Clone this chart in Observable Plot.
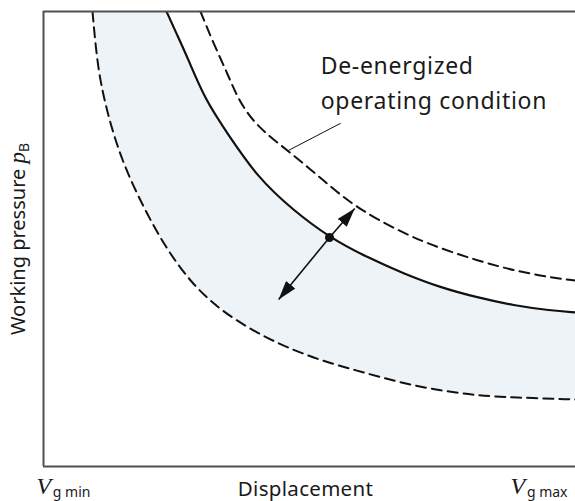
<!DOCTYPE html>
<html>
<head>
<meta charset="utf-8">
<script src="https://cdn.jsdelivr.net/npm/d3@7"></script>
<script src="https://cdn.jsdelivr.net/npm/@observablehq/plot@0.6"></script>
<style>
  html, body { margin: 0; padding: 0; background: #fff; }
  #chart svg { display: block; }
</style>
</head>
<body>
<div id="chart"></div>
<script>
// ---- Data (displacement 0..100 = Vg min..Vg max, pressure 0..100 relative) ----
const lowerX   = [9.21, 10.15, 11.84, 14.66, 18.80, 22.93, 27.82, 33.27, 40.23, 46.99, 53.95, 60.90, 67.67, 74.62, 81.58, 88.35, 100];
const lowerY   = [100, 87.69, 78.24, 67.25, 56.92, 48.13, 40.22, 34.29, 29.23, 25.49, 22.64, 20.44, 18.24, 16.70, 15.60, 15.16, 14.73];
const nominalX = [23.12, 25.00, 27.07, 30.45, 34.59, 40.23, 46.99, 53.76, 60.90, 67.67, 74.62, 81.58, 88.35, 95.30, 100];
const nominalY = [100, 95.16, 89.89, 80.44, 73.19, 63.52, 56.26, 50.33, 45.93, 42.42, 39.34, 37.14, 35.38, 34.29, 33.85];
const upperX   = [29.51, 31.95, 34.59, 36.65, 40.23, 46.43, 52.63, 58.65, 67.67, 74.62, 81.58, 88.35, 95.30, 100];
const upperY   = [100, 92.97, 86.37, 80.44, 74.51, 69.01, 62.86, 56.92, 51.21, 47.91, 45.27, 43.08, 41.54, 40.88];

const operatingPointX = [53.76];
const operatingPointY = [50.33];
const arrowTipX = [58.5, 44.2];
const arrowTipY = [56.7, 36.7];

const leaderX = [46.1, 55.8];
const leaderY = [69.5, 75.4];

const annotationText = "De-energized\noperating condition";
const yLabelKey = "Working pressure pB";
const xLabel = "Displacement";
const xTickMain = ["V", "V"];
const xTickSub = ["g min", "g max"];
const xTickPos = [0, 100];
const xDomain = [0, 100];
const yDomain = [0, 100];

// ---- Build tables ----
const toPts = (xs, ys) => xs.map((x, i) => ({x, y: ys[i]}));
const lower = toPts(lowerX, lowerY);
const nominal = toPts(nominalX, nominalY);
const upper = toPts(upperX, upperY);
const arrows = arrowTipX.map((x, i) => ({x1: operatingPointX[0], y1: operatingPointY[0], x2: x, y2: arrowTipY[i]}));
const leader = toPts(leaderX, leaderY);
const xTicks = xTickMain.map((m, i) => ({key: m + "_" + xTickSub[i], pos: xTickPos[i]}));

const SANS = "'Noto Sans', 'Open Sans', sans-serif";
const frameColor = "#505050";
const ink = "#111";
const bandColor = "#edf3f7";
const CURVE = "basis";

const chart = Plot.plot({
  width: 575,
  height: 501,
  marginLeft: 43,
  marginRight: 0,
  marginTop: 11,
  marginBottom: 35,
  x: {domain: xDomain, axis: null},
  y: {domain: yDomain, axis: null},
  style: {fontFamily: SANS, background: "#fff", color: "#1a1a1a"},
  marks: [
    // tolerance band: region above the lower curve, minus region above the nominal curve
    Plot.areaY(lower, {x: "x", y1: "y", y2: yDomain[1], fill: bandColor, curve: CURVE, clip: true}),
    Plot.areaY(nominal, {x: "x", y1: "y", y2: yDomain[1], fill: "#fff", curve: CURVE, clip: true}),
    Plot.line(lower, {x: "x", y: "y", stroke: ink, strokeWidth: 2, strokeDasharray: "10,6", curve: CURVE, clip: true}),
    Plot.line(upper, {x: "x", y: "y", stroke: ink, strokeWidth: 2, strokeDasharray: "10,6", curve: CURVE, clip: true}),
    Plot.line(nominal, {x: "x", y: "y", stroke: ink, strokeWidth: 2.2, curve: CURVE, clip: true}),
    Plot.line(leader, {x: "x", y: "y", stroke: ink, strokeWidth: 1}),
    Plot.link(arrows, {x1: "x1", y1: "y1", x2: "x2", y2: "y2", stroke: ink, strokeWidth: 1.6}),
    Plot.dot(operatingPointX.map((x, i) => ({x, y: operatingPointY[i]})), {x: "x", y: "y", r: 4.5, fill: ink, stroke: "none"}),
    Plot.ruleX([xDomain[0]], {stroke: frameColor, strokeWidth: 2}),
    Plot.ruleY(yDomain, {stroke: frameColor, strokeWidth: 2}),
    Plot.text([annotationText], {x: 52.1, y: 91.7, text: d => d, textAnchor: "start", lineAnchor: "top", lineHeight: 1.52, fontSize: 23, fill: "#1a1a1a"}),
    Plot.text([yLabelKey], {frameAnchor: "left", text: d => d, rotate: -90, dx: -25, textAnchor: "middle", lineAnchor: "middle", fontSize: 20, fill: "#1a1a1a"}),
    Plot.text([xLabel], {frameAnchor: "bottom", text: d => d, dx: -4, dy: 29, lineAnchor: "bottom", fontSize: 20.5, fill: "#1a1a1a"}),
    Plot.text(xTicks.filter(d => d.pos === xDomain[0]), {x: "pos", frameAnchor: "bottom", text: "key", dx: -7, dy: 27, lineAnchor: "bottom", textAnchor: "start", fontSize: 20, fill: "#1a1a1a"}),
    Plot.text(xTicks.filter(d => d.pos === xDomain[1]), {x: "pos", frameAnchor: "bottom", text: "key", dx: -8, dy: 27, lineAnchor: "bottom", textAnchor: "end", fontSize: 20, fill: "#1a1a1a"})
  ]
});

const svg = d3.select(chart.tagName.toLowerCase() === "svg" ? chart : chart.querySelector("svg"));

// arrowheads as filled triangles on the link ends
const defs = svg.insert("defs", ":first-child");
defs.append("marker")
  .attr("id", "ahead").attr("viewBox", "0 0 19 12").attr("refX", 19).attr("refY", 6)
  .attr("markerWidth", 19).attr("markerHeight", 12).attr("markerUnits", "userSpaceOnUse")
  .attr("orient", "auto")
  .append("path").attr("d", "M0,0 L19,6 L0,12 Z").attr("fill", ink);
svg.selectAll("g[aria-label=link] path").attr("marker-end", "url(#ahead)");

// letter spacing for the wide sans text
svg.selectAll("text").each(function () {
  const s = this.textContent;
  if (s === xLabel) this.style.letterSpacing = "0.3px";
  if (s.startsWith("De-energized")) this.style.letterSpacing = "0.7px";
});

// rich text (italic serif symbols with subscripts)
function rich(key, parts) {
  svg.selectAll("text").filter(function () { return this.textContent === key; }).each(function () {
    const t = d3.select(this);
    t.text(null);
    for (const p of parts) {
      const s = t.append("tspan").text(p.text);
      if (p.font) s.style("font-family", p.font);
      if (p.italic) s.style("font-style", "italic");
      if (p.size) s.style("font-size", p.size + "px");
      if (p.dy) s.attr("dy", p.dy);
    }
  });
}
const SERIF = "'Liberation Serif', 'DejaVu Serif', serif";
rich(yLabelKey, [
  {text: "Working pressure "},
  {text: "p", font: SERIF, italic: true, size: 23},
  {text: "B", size: 14, dy: "0.3em"}
]);
xTicks.forEach((d, i) => rich(d.key, [
  {text: xTickMain[i], font: SERIF, italic: true, size: 24},
  {text: "\u2009", size: 10},
  {text: xTickSub[i], size: 14, dy: "0.25em"}
]));

document.getElementById("chart").appendChild(chart);
</script>
</body>
</html>
